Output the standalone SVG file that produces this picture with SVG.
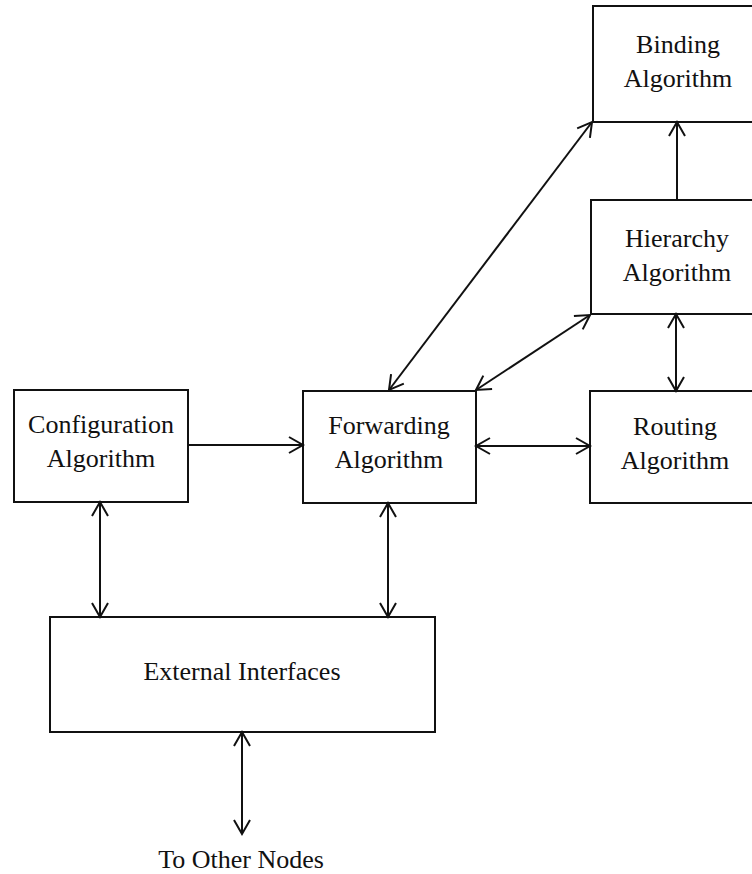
<svg xmlns="http://www.w3.org/2000/svg" width="752" height="874" viewBox="0 0 752 874">
<style>
.box{fill:#fff;stroke:#111;stroke-width:2}
.lbl{font-family:"Liberation Serif","Times New Roman",serif;font-size:26px;fill:#111;text-anchor:middle}
.c{fill:none;stroke:#111;stroke-width:2}
</style>
<defs>
<marker id="ah" markerUnits="userSpaceOnUse" markerWidth="20" markerHeight="20" refX="15" refY="8" orient="auto-start-reverse" viewBox="0 0 20 16">
<path d="M1,0 L15,8 L1,16" fill="none" stroke="#111" stroke-width="2"/>
</marker>
</defs>
<rect width="752" height="874" fill="#fff"/>
<g id="binding"><rect class="box" x="593" y="6" width="175" height="116"/><text class="lbl" x="678" y="53">Binding</text><text class="lbl" x="678" y="87">Algorithm</text></g>
<g id="hierarchy"><rect class="box" x="591" y="200" width="177" height="114"/><text class="lbl" x="677" y="247">Hierarchy</text><text class="lbl" x="677" y="281">Algorithm</text></g>
<g id="routing"><rect class="box" x="590" y="391" width="178" height="112"/><text class="lbl" x="675" y="435">Routing</text><text class="lbl" x="675" y="469">Algorithm</text></g>
<g id="forwarding"><rect class="box" x="303" y="391" width="173" height="112"/><text class="lbl" x="389" y="434">Forwarding</text><text class="lbl" x="389" y="468">Algorithm</text></g>
<g id="configuration"><rect class="box" x="14" y="390" width="174" height="112"/><text class="lbl" x="101" y="433">Configuration</text><text class="lbl" x="101" y="467">Algorithm</text></g>
<g id="external"><rect class="box" x="50" y="617" width="385" height="115"/><text class="lbl" x="242" y="680">External Interfaces</text></g>
<g id="othernodes"><text class="lbl" x="241" y="868">To Other Nodes</text></g>
<g id="connectors">
<path class="c" d="M188,445 H303" marker-end="url(#ah)"/>
<path class="c" d="M476,446 H590" marker-start="url(#ah)" marker-end="url(#ah)"/>
<path class="c" d="M676,314 V391" marker-start="url(#ah)" marker-end="url(#ah)"/>
<path class="c" d="M677,200 V122" marker-end="url(#ah)"/>
<path class="c" d="M592,122 L389,390" marker-start="url(#ah)" marker-end="url(#ah)"/>
<path class="c" d="M590,315 L476,390" marker-start="url(#ah)" marker-end="url(#ah)"/>
<path class="c" d="M100,502 V617" marker-start="url(#ah)" marker-end="url(#ah)"/>
<path class="c" d="M388,503 V617" marker-start="url(#ah)" marker-end="url(#ah)"/>
<path class="c" d="M242,732 V834" marker-start="url(#ah)" marker-end="url(#ah)"/>
</g>
</svg>
